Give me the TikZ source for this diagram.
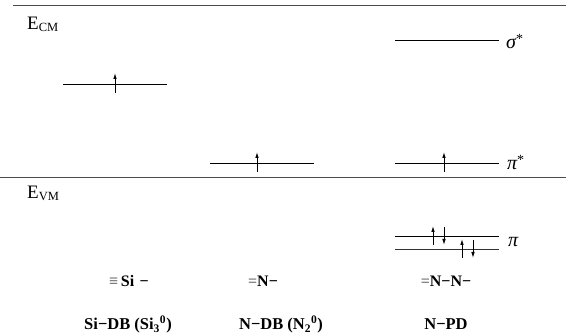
\documentclass[tikz,border=0pt]{standalone}
\usepackage{fontspec}
\setmainfont{Liberation Serif}
\usetikzlibrary{arrows.meta}
\newcommand{\ebandlab}[1]{E\raisebox{-1.5pt}{\fontsize{12.5}{14}\selectfont #1}}
\newcommand{\orblab}[2]{{\itshape #1}\ifx&#2&\else\raisebox{5pt}{\fontsize{14}{14}\selectfont #2}\fi}
\begin{document}
\begin{tikzpicture}[x=1pt,y=-1pt,
  level/.style={line width=0.9pt},
  sep/.style={line width=0.9pt,black!70},
  spin/.style={line width=0.9pt,-{Latex[length=6pt,width=3.6pt]}},
  elab/.style={font=\fontsize{19}{22}\selectfont,anchor=base west,inner sep=0pt},
  olab/.style={font=\fontsize{20}{22}\selectfont,anchor=base west,inner sep=0pt},
  mol/.style={font=\bfseries\fontsize{16}{18}\selectfont,inner sep=0pt,anchor=base},
  deflab/.style={font=\bfseries\fontsize{16.5}{18}\selectfont,inner sep=0pt,anchor=base}]
\useasboundingbox (0,0) rectangle (571,336);
% separators
\coordinate (t1) at (13,5); \coordinate (t2) at (566,5);
\coordinate (m1) at (0,177); \coordinate (m2) at (566,177);
\draw[sep] (t1) -- (t2);
\draw[sep] (m1) -- (m2);
% band labels
\node[elab] (ecm) at (27,30) {\ebandlab{CM}};
\node[elab] (evm) at (27,199) {\ebandlab{VM}};
% Si-DB level
\coordinate (a1) at (63,84); \coordinate (a2) at (167,84);
\draw[level] (a1) -- (a2);
\coordinate (sa1) at (115,93); \coordinate (sa2) at (115,73);
\draw[spin] (sa1) -- (sa2);
% N-DB level
\coordinate (b1) at (210,163); \coordinate (b2) at (314,163);
\draw[level] (b1) -- (b2);
\coordinate (sb1) at (257,172); \coordinate (sb2) at (257,152);
\draw[spin] (sb1) -- (sb2);
% sigma*
\coordinate (c1) at (395,40); \coordinate (c2) at (499,40);
\draw[level] (c1) -- (c2);
\node[olab] (sig) at (506,49) {\orblab{σ}{*}};
% pi*
\coordinate (d1) at (395,163); \coordinate (d2) at (499,163);
\draw[level] (d1) -- (d2);
\coordinate (sd1) at (444,172); \coordinate (sd2) at (444,152);
\draw[spin] (sd1) -- (sd2);
\node[olab] (pis) at (507,170) {\orblab{π}{*}};
% pi levels
\coordinate (e1) at (395,236); \coordinate (e2) at (499,236);
\coordinate (f1) at (395,249); \coordinate (f2) at (499,249);
\draw[level] (e1) -- (e2);
\draw[level,black!80] (f1) -- (f2);
\coordinate (u1a) at (433,245); \coordinate (u1b) at (433,226);
\coordinate (d1a) at (444,227); \coordinate (d1b) at (444,245);
\coordinate (u2a) at (462,258); \coordinate (u2b) at (462,239);
\coordinate (d2a) at (473,240); \coordinate (d2b) at (473,258);
\draw[spin] (u1a) -- (u1b);
\draw[spin] (d1a) -- (d1b);
\draw[spin] (u2a) -- (u2b);
\draw[spin] (d2a) -- (d2b);
\node[olab] (pi) at (508,247) {\orblab{π}{}};
% molecule labels
\node[mol] (m1t) at (129,287) {\textcolor{black!55}{≡}\,Si\,\,−};
\node[mol] (m2t) at (263,287) {\textcolor{black!55}{=}N−};
\node[mol] (m3t) at (446,287) {\textcolor{black!55}{=}N−N−};
% defect names
\node[deflab] (n1) at (128,330) {Si−DB (Si\textsubscript{3}\textsuperscript{0})};
\node[deflab] (n2) at (281,330) {N−DB (N\textsubscript{2}\textsuperscript{0})};
\node[deflab] (n3) at (446,330) {N−PD};
\end{tikzpicture}
\end{document}
